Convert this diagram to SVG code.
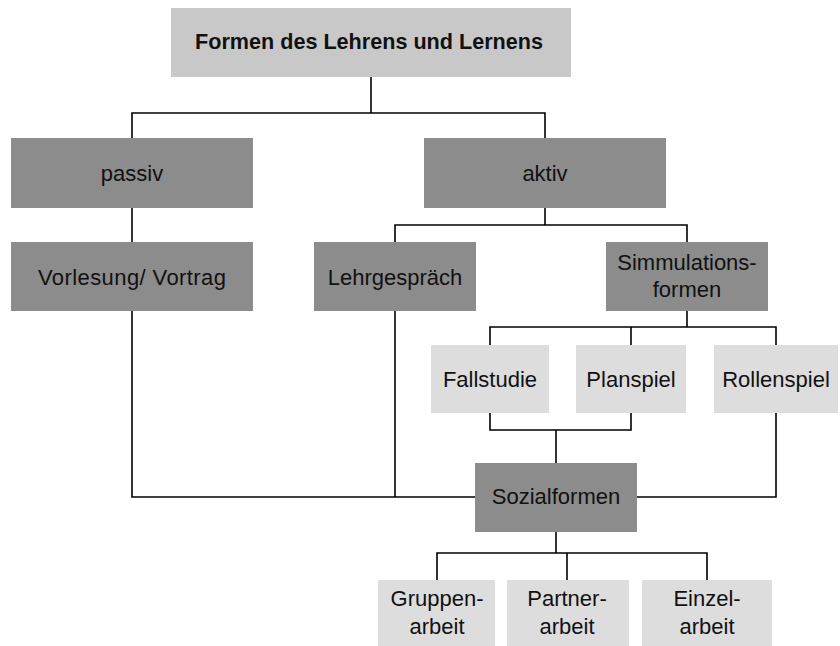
<svg xmlns="http://www.w3.org/2000/svg" width="840" height="646" viewBox="0 0 840 646">
  <style>
    .top { fill: #c8c8c8; }
    .dark { fill: #8c8c8c; }
    .light { fill: #dddddd; }
    text { font-family: "Liberation Sans", Arial, sans-serif; font-size: 22px; fill: #111111; text-anchor: middle; }
    text.title { font-weight: bold; font-size: 21.6px; }
    .conn { fill: none; stroke: #000000; stroke-width: 1.6; }
  </style>
  <rect width="840" height="646" fill="#ffffff"/>

  <g id="connectors">
    <!-- root to passiv / aktiv -->
    <polyline class="conn" points="371,77 371,113"/>
    <polyline class="conn" points="132,138 132,113 545,113 545,138"/>
    <!-- passiv to Vorlesung -->
    <polyline class="conn" points="132,208 132,242"/>
    <!-- aktiv to Lehrgespräch / Simmulationsformen -->
    <polyline class="conn" points="545,208 545,225"/>
    <polyline class="conn" points="395,242 395,225 687,225 687,242"/>
    <!-- Simmulationsformen to Fallstudie / Planspiel / Rollenspiel -->
    <polyline class="conn" points="687,311 687,327"/>
    <polyline class="conn" points="490,345 490,327 776,327 776,345"/>
    <polyline class="conn" points="631,327 631,345"/>
    <!-- Fallstudie / Planspiel to Sozialformen -->
    <polyline class="conn" points="490,413 490,430 631,430 631,413"/>
    <polyline class="conn" points="556,430 556,463"/>
    <!-- Vorlesung / Lehrgespräch to Sozialformen -->
    <polyline class="conn" points="132,311 132,497 475,497"/>
    <polyline class="conn" points="395,311 395,497"/>
    <!-- Rollenspiel to Sozialformen -->
    <polyline class="conn" points="776,413 776,497 637,497"/>
    <!-- Sozialformen to Gruppen- / Partner- / Einzelarbeit -->
    <polyline class="conn" points="556,532 556,553"/>
    <polyline class="conn" points="437,580 437,553 707,553 707,580"/>
    <polyline class="conn" points="567,553 567,580"/>
  </g>

  <g id="root">
    <rect class="top" x="171" y="8" width="400" height="69"/>
    <text class="title" x="369" y="49">Formen des Lehrens und Lernens</text>
  </g>

  <g id="passiv">
    <rect class="dark" x="11" y="138" width="242" height="70"/>
    <text x="132" y="181">passiv</text>
  </g>

  <g id="aktiv">
    <rect class="dark" x="424" y="138" width="242" height="70"/>
    <text x="545" y="181">aktiv</text>
  </g>

  <g id="vorlesung">
    <rect class="dark" x="11" y="242" width="242" height="69"/>
    <text x="132" y="285" textLength="188" lengthAdjust="spacing">Vorlesung/  Vortrag</text>
  </g>

  <g id="lehrgespraech">
    <rect class="dark" x="314" y="242" width="162" height="69"/>
    <text x="395" y="285">Lehrgespräch</text>
  </g>

  <g id="simmulationsformen">
    <rect class="dark" x="606" y="242" width="162" height="69"/>
    <text x="687" y="270">Simmulations-</text>
    <text x="687" y="297">formen</text>
  </g>

  <g id="fallstudie">
    <rect class="light" x="431" y="345" width="118" height="68"/>
    <text x="490" y="387">Fallstudie</text>
  </g>

  <g id="planspiel">
    <rect class="light" x="576" y="345" width="110" height="68"/>
    <text x="631" y="387">Planspiel</text>
  </g>

  <g id="rollenspiel">
    <rect class="light" x="714" y="345" width="124" height="68"/>
    <text x="776" y="387">Rollenspiel</text>
  </g>

  <g id="sozialformen">
    <rect class="dark" x="475" y="463" width="162" height="69"/>
    <text x="556" y="504">Sozialformen</text>
  </g>

  <g id="gruppenarbeit">
    <rect class="light" x="378" y="580" width="117" height="66"/>
    <text x="437" y="606">Gruppen-</text>
    <text x="437" y="634">arbeit</text>
  </g>

  <g id="partnerarbeit">
    <rect class="light" x="507" y="580" width="122" height="66"/>
    <text x="567" y="606">Partner-</text>
    <text x="567" y="634">arbeit</text>
  </g>

  <g id="einzelarbeit">
    <rect class="light" x="642" y="580" width="130" height="66"/>
    <text x="707" y="606">Einzel-</text>
    <text x="707" y="634">arbeit</text>
  </g>
</svg>
